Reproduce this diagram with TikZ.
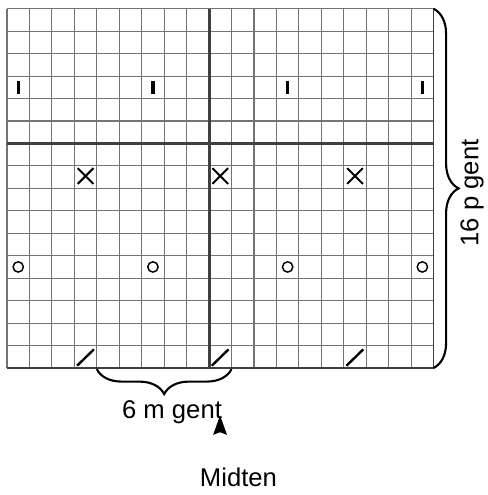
\documentclass[tikz,border=0pt]{standalone}
\usepackage{fontspec}
\setmainfont{Liberation Sans}
\usetikzlibrary{decorations.pathreplacing}
\tikzset{
  gridline/.style={draw,black!55,line width=0.85pt},
  midline/.style={draw,black!75,line width=2.2pt},
  edgeline/.style={draw,black!75,line width=1.2pt},
  sym-bar/.style={draw,black,line width=2.4pt},
  sym-cross/.style={draw,black,line width=1.5pt},
  sym-ring/.style={draw,black,line width=1.1pt},
  sym-slash/.style={draw,black,line width=1.8pt},
  brace-line/.style={decorate,decoration={brace,amplitude=19pt},line width=1.6pt,black},
  lbl/.style={font=\fontsize{19.5}{23}\selectfont,inner sep=0pt},
}

\begin{document}
\begin{tikzpicture}[x=0.6cm,y=0.6cm]

  \useasboundingbox (-0.312,-5.657) rectangle (21.38,16.39);

  % grid 19 x 16
  \foreach \i in {0,...,19} \draw[gridline] (\i,0) -- (\i,16);
  \foreach \j in {0,...,16} \draw[gridline] (0,\j) -- (19,\j);
  \draw[midline] (9,0) -- (9,16);
  \draw[midline] (0,10) -- (19,10);
  \draw[edgeline] (0,0) -- (19,0) -- (19,16);

  % symbols
  \foreach \c in {0,6,12,18} {
    \draw[sym-bar] (\c+0.5,12.21) -- (\c+0.5,12.79);
    \draw[sym-ring] (\c+0.5,4.5) circle (0.23);
  }
  \foreach \c in {3,9,15} {
    \draw[sym-cross] (\c+0.15,8.2) -- (\c+0.85,8.9);
    \draw[sym-cross] (\c+0.15,8.9) -- (\c+0.85,8.2);
    \draw[sym-slash] (\c+0.12,0.1) -- (\c+0.87,0.83);
  }

  % braces
  \coordinate (rtop) at (19,16);
  \coordinate (rbot) at (19,0);
  \coordinate (bleft) at (4,-0.05);
  \coordinate (bright) at (10,-0.05);
  \draw[brace-line] (rtop) -- (rbot);
  \draw[brace-line] (bright) -- (bleft);

  \node[lbl,rotate=90] (rows) at (20.71,7.8) {16 p gent};
  \node[lbl] (cols) at (7.35,-1.96) {6 m gent};
  \node[lbl] (mid) at (10.31,-4.88) {Midten};

  % centre marker
  \fill[black] (9.49,-2.11) -- (9.80,-2.98) -- (9.49,-2.86) -- (9.18,-2.98) -- cycle;

\end{tikzpicture}
\end{document}
